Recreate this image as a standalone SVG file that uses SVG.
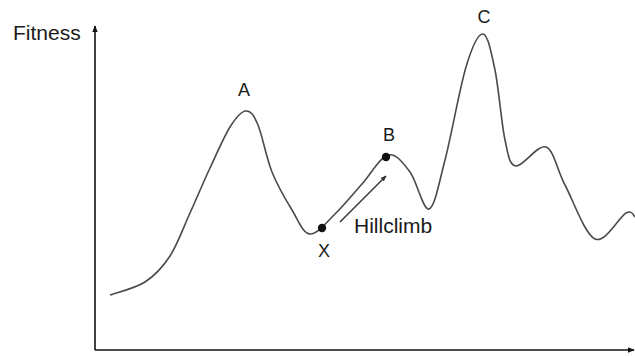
<svg xmlns="http://www.w3.org/2000/svg" width="635" height="356" viewBox="0 0 635 356">
<style>
.lbl{font-family:"Liberation Sans",Arial,sans-serif;fill:#1a1a1a}
.big{font-size:21px}
.pt{font-size:18px;text-anchor:middle}
.axis{stroke:#111;stroke-width:1.6;fill:none}
.curve{stroke:#4a4a4a;stroke-width:1.6;fill:none}
.dot{fill:#111}
</style>
<defs>
<marker id="ah" viewBox="0 0 10 10" refX="9" refY="5" markerWidth="7" markerHeight="7" markerUnits="userSpaceOnUse" orient="auto">
<path d="M0,1 L10,5 L0,9 Z" fill="#111"/>
</marker>
<marker id="ahs" viewBox="0 0 10 10" refX="9" refY="5" markerWidth="6" markerHeight="6" markerUnits="userSpaceOnUse" orient="auto">
<path d="M0,1 L10,5 L0,9 Z" fill="#333"/>
</marker>
</defs>
<rect width="635" height="356" fill="#fff"/>
<g id="axes">
<line class="axis" x1="95" y1="350" x2="95" y2="26" marker-end="url(#ah)"/>
<line class="axis" x1="95" y1="350" x2="634" y2="350" marker-end="url(#ah)"/>
<text class="lbl big" x="13" y="40">Fitness</text>
</g>
<g id="landscape">
<path class="curve" d="M110,295 C115.8,292.8 135,288.5 145,282 C155,275.5 162.5,267.5 170,256 C177.5,244.5 183.3,227.7 190,213 C196.7,198.3 203.3,182.3 210,168 C216.7,153.7 224,136.5 230,127 C236,117.5 241.3,111.3 246,111 C250.7,110.7 253.7,114.8 258,125 C262.3,135.2 266.3,157.8 272,172 C277.7,186.2 285.7,199.7 292,210 C298.3,220.3 302.8,233.3 310,234 C317.2,234.7 326.3,222.3 335,214 C343.7,205.7 353.2,193.8 362,184 C370.8,174.2 380,157 388,155 C396,153 403.2,163 410,172 C416.8,181 423.2,211 429,209 C434.8,207 438.8,183.7 445,160 C451.2,136.3 459.7,88 466,67 C472.3,46 478.2,33.5 483,34 C487.8,34.5 491.3,52.3 495,70 C498.7,87.7 501.5,124 505,140 C508.5,156 509.2,164.8 516,166 C522.8,167.2 537.8,143.8 546,147 C554.2,150.2 556.8,169.7 565,185 C573.2,200.3 584.8,234.3 595,239 C605.2,243.7 619.3,216.7 626,213 C632.7,209.3 633.5,216.3 635,217"/>
</g>
<g id="node-A"><text class="lbl pt" x="244" y="96">A</text></g>
<g id="node-C"><text class="lbl pt" x="484" y="23">C</text></g>
<g id="node-B">
<circle class="dot" cx="386" cy="157" r="4.2"/>
<text class="lbl pt" x="389" y="141">B</text>
</g>
<g id="node-X">
<circle class="dot" cx="322" cy="228" r="4.2"/>
<text class="lbl pt" x="324" y="257">X</text>
</g>
<g id="connectors">
<line x1="340" y1="222" x2="386" y2="176" stroke="#333" stroke-width="1.4" marker-end="url(#ahs)"/>
</g>
<g id="hillclimb-label"><text class="lbl big" x="354" y="233">Hillclimb</text></g>
</svg>
